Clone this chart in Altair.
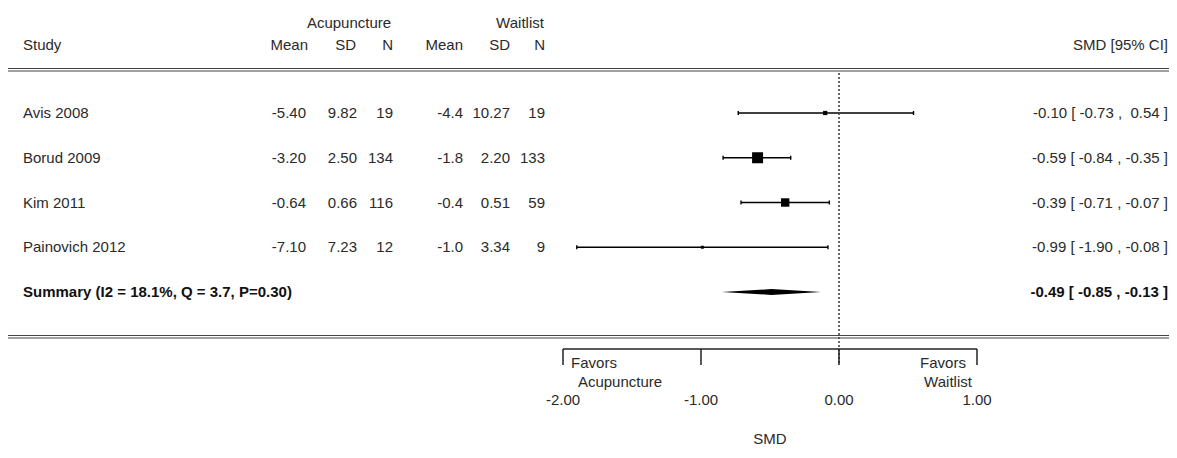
import altair as alt
import pandas as pd

# ---------------- data ----------------
studies = ["Avis 2008", "Borud 2009", "Kim 2011", "Painovich 2012"]
acu_mean = [-5.40, -3.20, -0.64, -7.10]
acu_sd = [9.82, 2.50, 0.66, 7.23]
acu_n = [19, 134, 116, 12]
wait_mean = [-4.4, -1.8, -0.4, -1.0]
wait_sd = [10.27, 2.20, 0.51, 3.34]
wait_n = [19, 133, 59, 9]
smd = [-0.10, -0.59, -0.39, -0.99]
ci_lo = [-0.73, -0.84, -0.71, -1.90]
ci_hi = [0.54, -0.35, -0.07, -0.08]
weight = [9.5, 64.0, 37.5, 4.6]  # relative study weights (box area)

summary_label = "Summary (I2 = 18.1%, Q = 3.7, P=0.30)"
summary_smd = [-0.49]
summary_lo = [-0.85]
summary_hi = [-0.13]

x_ticks = [-2.0, -1.0, 0.0, 1.0]
x_title = "SMD"

# ---------------- layout ----------------
W, H = 1161, 442
FONT = "Liberation Sans"
FS = 15
TXT = "#2a2a2a"
ROW_PX = 44.75          # pixel distance between rows
ROW1_PX = 105           # pixel position of first study row
Y0 = 1 - ROW1_PX / ROW_PX
Y1 = Y0 + H / ROW_PX
ZERO_PX = 831
UNIT_PX = 138.0
X0 = -ZERO_PX / UNIT_PX
X1 = (W - ZERO_PX) / UNIT_PX

XS = alt.Scale(domain=[X0, X1], nice=False, zero=False)
YS = alt.Scale(domain=[Y0, Y1], nice=False, zero=False, reverse=True)


def fmt_ci(e, l, h):
    return f"{e:.2f} [ {l:5.2f} , {h:5.2f} ]".replace(" ", "\u00a0")


rows = list(range(1, len(studies) + 1))
df = pd.DataFrame({
    "row": rows,
    "study": studies,
    "am": [f"{v:.2f}" for v in acu_mean],
    "asd": [f"{v:.2f}" for v in acu_sd],
    "an": [str(v) for v in acu_n],
    "wm": [f"{v:.1f}" for v in wait_mean],
    "wsd": [f"{v:.2f}" for v in wait_sd],
    "wn": [str(v) for v in wait_n],
    "smd": smd,
    "lo": ci_lo,
    "hi": ci_hi,
    "w": weight,
    "ci": [fmt_ci(e, l, h) for e, l, h in zip(smd, ci_lo, ci_hi)],
})

srow = len(studies) + 1
df_sum = pd.DataFrame({
    "row": [srow],
    "label": [summary_label],
    "ci": [fmt_ci(summary_smd[0], summary_lo[0], summary_hi[0])],
})

D = 0.065  # diamond half-height in row units
df_dia = pd.DataFrame({
    "x": [summary_lo[0], summary_smd[0], summary_hi[0]],
    "yu": [srow, srow - D, srow],
    "yl": [srow, srow + D, srow],
})

dummy = pd.DataFrame({"a": [0]})

X = lambda f: alt.X(f, scale=XS, axis=None)
Y = lambda f: alt.Y(f, scale=YS, axis=None)

layers = []

# confidence interval lines
layers.append(alt.Chart(df).mark_rule(color="black", strokeWidth=1.4).encode(
    x=X("lo:Q"), x2="hi:Q", y=Y("row:Q")))
# end caps
for f in ["lo", "hi"]:
    layers.append(alt.Chart(df).transform_calculate(
        yt="datum.row - 0.045", yb="datum.row + 0.045"
    ).mark_rule(color="black", strokeWidth=1.4).encode(
        x=X(f + ":Q"), y=Y("yt:Q"), y2="yb:Q"))
# boxes
layers.append(alt.Chart(df).mark_square(color="black", opacity=1, strokeWidth=0).encode(
    x=X("smd:Q"), y=Y("row:Q"),
    size=alt.Size("w:Q", scale=alt.Scale(domain=[0, 64], range=[0, 121]), legend=None)))
# summary diamond
layers.append(alt.Chart(df_dia).mark_area(color="black", orient="vertical", opacity=1).encode(
    x=X("x:Q"), y=Y("yu:Q"), y2="yl:Q"))

# zero reference line (dotted)
layers.append(alt.Chart(pd.DataFrame({"x": [0.0]})).mark_rule(
    color="#444", strokeWidth=1.6, strokeDash=[2, 2]).encode(
    x=X("x:Q"), y=alt.value(65), y2=alt.value(357)))

# horizontal separators (double lines)
for ypx in [60.5, 63, 327.5, 330]:
    layers.append(alt.Chart(dummy).mark_rule(color="#444", strokeWidth=1.1).encode(
        x=alt.value(-2), x2=alt.value(W), y=alt.value(ypx)))

# x axis drawn by hand (line at top, ticks down)
df_ticks = pd.DataFrame({"t": x_ticks, "label": [f"{t:.2f}" for t in x_ticks]})
layers.append(alt.Chart(pd.DataFrame({"a": [min(x_ticks)], "b": [max(x_ticks)]})).mark_rule(
    color="#222", strokeWidth=1.5).encode(x=X("a:Q"), x2="b:Q", y=alt.value(341)))
layers.append(alt.Chart(df_ticks).mark_rule(color="#222", strokeWidth=1.5).encode(
    x=X("t:Q"), y=alt.value(341), y2=alt.value(357)))
layers.append(alt.Chart(df_ticks).mark_text(
    font=FONT, fontSize=FS, color=TXT, baseline="middle").encode(
    x=X("t:Q"), y=alt.value(392), text="label:N"))
layers.append(alt.Chart(pd.DataFrame({"x": [sum(x_ticks[::len(x_ticks) - 1]) / 2], "t": [x_title]})).mark_text(
    font=FONT, fontSize=FS, color=TXT, baseline="alphabetic").encode(
    x=X("x:Q"), y=alt.value(436), text="t:N"))

# favors labels
for txt, xp, yp in [("Favors", 586, 355), ("Acupuncture", 612, 374),
                    ("Favors", 935, 355), ("Waitlist", 940, 374)]:
    layers.append(alt.Chart(dummy).mark_text(
        font=FONT, fontSize=FS, color=TXT, baseline="middle", text=txt).encode(
        x=alt.value(xp), y=alt.value(yp)))

# table headers
for txt, xp, yp, al in [("Acupuncture", 341, 15, "center"), ("Waitlist", 512, 15, "center"),
                        ("Study", 15, 37, "left"),
                        ("Mean", 300, 37, "right"), ("SD", 348, 37, "right"), ("N", 385, 37, "right"),
                        ("Mean", 455, 37, "right"), ("SD", 502, 37, "right"), ("N", 537, 37, "right"),
                        ("SMD [95% CI]", 1160, 37, "right")]:
    layers.append(alt.Chart(dummy).mark_text(
        font=FONT, fontSize=FS, color=TXT, baseline="middle", align=al, text=txt).encode(
        x=alt.value(xp), y=alt.value(yp)))

# table body
for f, xp, al in [("study", 15, "left"), ("am", 298, "right"), ("asd", 349, "right"),
                  ("an", 385, "right"), ("wm", 455, "right"), ("wsd", 502, "right"),
                  ("wn", 537, "right"), ("ci", 1160, "right")]:
    layers.append(alt.Chart(df).mark_text(
        font=FONT, fontSize=FS, color=TXT, baseline="middle", align=al).encode(
        x=alt.value(xp), y=Y("row:Q"), text=f + ":N"))

# summary row text
for f, xp, al in [("label", 15, "left"), ("ci", 1160, "right")]:
    layers.append(alt.Chart(df_sum).mark_text(
        font=FONT, fontSize=FS, color="#111", baseline="middle", align=al, fontWeight="bold").encode(
        x=alt.value(xp), y=Y("row:Q"), text=f + ":N"))

chart = alt.layer(*layers).properties(
    width=W, height=H, padding=0,
    autosize=alt.AutoSizeParams(type="none"),
    background="white",
).configure_view(strokeWidth=0)

chart.save("out.html", embed_options={"renderer": "svg", "actions": False})
